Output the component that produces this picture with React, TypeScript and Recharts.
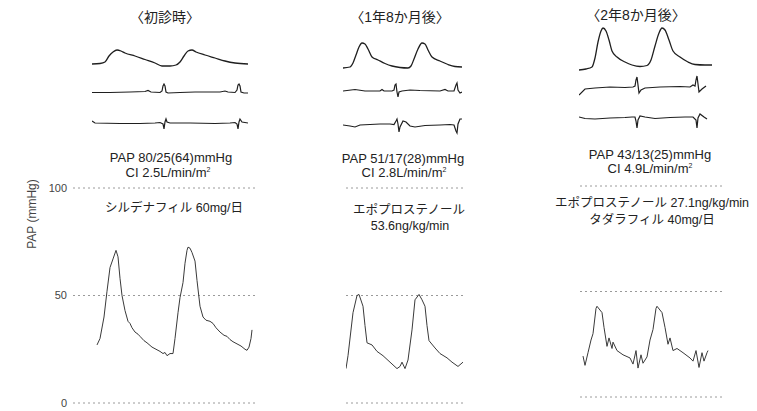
import { LineChart, Line, XAxis, YAxis, ReferenceLine } from 'recharts';

// time in ms from each panel's left reference
type Pt = [number, number];

// PAP waveforms (mmHg)
const pap1: Pt[] = [
  [240, 27], [270, 30], [310, 40], [340, 52], [370, 63], [400, 67], [430, 71], [450, 68], [470, 58],
  [490, 50], [520, 43], [550, 38], [570, 37], [590, 35], [620, 33], [650, 32], [670, 31], [710, 29],
  [740, 28], [790, 26], [830, 25], [870, 24], [900, 23], [920, 23.5], [940, 22], [970, 23], [1000, 23],
  [1020, 30], [1050, 42], [1070, 49], [1100, 56], [1120, 65], [1140, 71], [1150, 72.5], [1170, 72],
  [1190, 70], [1220, 66], [1240, 57], [1270, 45], [1300, 40], [1330, 38.5], [1370, 38], [1400, 37],
  [1430, 35], [1470, 33], [1510, 31.5], [1540, 31], [1570, 29.5], [1600, 28.5], [1640, 27.5],
  [1680, 26.5], [1720, 25], [1740, 24.5], [1760, 26], [1780, 30], [1790, 34],
];
const pap2: Pt[] = [
  [60, 16], [80, 22], [130, 42], [170, 50], [190, 50.5], [230, 45], [250, 36], [270, 28], [320, 27],
  [370, 24], [430, 22], [500, 19], [570, 16], [600, 17], [620, 19], [650, 16], [680, 20], [720, 34],
  [750, 48], [790, 50.5], [820, 48], [850, 45], [870, 36], [890, 29], [950, 25.6], [1000, 23],
  [1070, 21], [1120, 19], [1180, 17], [1230, 19],
];
const pap3: Pt[] = [
  [80, 19.4], [100, 15], [130, 21], [160, 27], [180, 30], [210, 42], [220, 43], [270, 40], [290, 33],
  [320, 24], [340, 28], [370, 23], [380, 26], [420, 22], [480, 20], [550, 18.5], [580, 15.6], [610, 22],
  [630, 13.7], [660, 20], [680, 16], [720, 19], [750, 27], [780, 32], [810, 42], [820, 43], [870, 40],
  [900, 33], [930, 25], [950, 28], [980, 22], [1020, 23], [1080, 21], [1150, 18.5], [1180, 17],
  [1210, 22], [1240, 14], [1270, 21], [1290, 17], [1320, 21], [1330, 22],
];

// upper strips: pressure, ECG lead A, ECG lead B (relative amplitude)
const press1: Pt[] = [
  [190, 76], [270, 76.5], [320, 78], [360, 84], [400, 88], [440, 90], [480, 89], [520, 87], [620, 84],
  [720, 80.5], [820, 77], [890, 74], [970, 74], [1030, 75], [1070, 78], [1110, 84], [1150, 89],
  [1190, 90], [1230, 88], [1320, 85], [1420, 82], [1520, 79], [1620, 77], [1750, 76],
];
const ecgA1: Pt[] = [
  [190, 47.5], [370, 47.5], [570, 48], [720, 48.5], [750, 49.5], [780, 48], [870, 47.5], [890, 49],
  [900, 54], [910, 56], [920, 54], [930, 48], [950, 47], [1070, 47.5], [1220, 48], [1470, 48],
  [1520, 49], [1550, 48], [1620, 47.5], [1640, 50], [1650, 55], [1660, 56], [1670, 54], [1680, 48],
  [1710, 47], [1750, 47],
];
const ecgB1: Pt[] = [
  [190, 19], [220, 17], [470, 16.5], [670, 16.5], [820, 17], [870, 17.5], [900, 16], [910, 11],
  [920, 18], [930, 21], [940, 18], [970, 17], [1170, 17], [1420, 16.5], [1570, 17], [1620, 17.5],
  [1640, 16], [1650, 11], [1660, 18], [1670, 21], [1690, 18], [1750, 17],
];
const press2: Pt[] = [
  [30, 72], [100, 73], [130, 77], [160, 85], [190, 93], [220, 97], [250, 96], [280, 91], [320, 83],
  [380, 80], [450, 76.5], [520, 74], [600, 72.5], [680, 72], [710, 74], [740, 81], [780, 91], [820, 97],
  [850, 96], [880, 90], [920, 83], [1000, 79], [1080, 75.5], [1150, 73.5], [1220, 73],
];
const ecgA2: Pt[] = [
  [30, 49], [150, 50.5], [250, 49], [400, 49], [420, 50.5], [440, 49], [520, 49], [540, 50], [550, 55],
  [560, 56], [570, 48], [580, 43], [590, 48], [620, 49], [700, 50], [800, 49.5], [1000, 49],
  [1050, 50.5], [1080, 49], [1140, 49], [1160, 55], [1170, 57], [1180, 50], [1200, 47], [1220, 48],
];
const ecgB2: Pt[] = [
  [30, 15], [100, 14], [150, 13], [200, 15], [300, 15.5], [400, 16], [500, 16], [540, 15.5], [560, 19],
  [570, 21], [580, 16], [590, 8], [600, 13], [630, 19], [660, 18], [700, 14], [750, 13], [850, 14.5],
  [1000, 15], [1100, 15.5], [1140, 15], [1160, 9], [1170, 7], [1180, 16], [1200, 21], [1220, 21],
];
const press3: Pt[] = [
  [40, 70], [110, 71], [170, 73], [200, 82], [230, 98], [260, 109], [280, 112], [310, 109], [340, 100],
  [370, 89], [420, 83], [500, 78], [570, 75], [650, 73.5], [720, 74.5], [760, 80], [800, 94], [840, 107],
  [870, 112], [900, 110], [940, 100], [980, 89], [1050, 83], [1130, 78], [1200, 75.5], [1300, 75],
  [1370, 75],
];
const ecgA3: Pt[] = [
  [40, 45], [100, 51], [200, 52], [350, 53], [500, 52.5], [580, 53], [600, 54], [610, 60], [620, 63],
  [630, 55], [640, 47], [660, 50], [700, 52], [850, 53], [1050, 53.5], [1150, 53], [1180, 55],
  [1200, 54], [1210, 60], [1220, 64], [1230, 56], [1240, 48], [1270, 51], [1310, 54],
];
const ecgB3: Pt[] = [
  [40, 23], [100, 21.5], [200, 21], [350, 22], [500, 22.5], [570, 23], [600, 23], [610, 19], [620, 12],
  [630, 20], [650, 24], [700, 23], [800, 21.5], [950, 22.5], [1100, 23], [1180, 23], [1210, 20],
  [1220, 12], [1230, 22], [1250, 26], [1290, 23], [1320, 21],
];

const pts = (a: Pt[]) => a.map(([t, v]) => ({ t, v }));

const yTicks = [0, 50, 100];
const INK = '#1f1f1f';
const GRID = '#9a9a9a';
const FONT = "'Liberation Sans', 'Noto Sans CJK JP', sans-serif";

type StripProps = { left: number; width: number; domain: [number, number]; press: Pt[]; ecgA: Pt[]; ecgB: Pt[] };

// pressure trace + two ECG leads; one hidden y scale, leads offset by amplitude
const Strips = ({ left, width, domain, press, ecgA, ecgB }: StripProps) => (
  <LineChart width={width} height={120} margin={{ top: 0, right: 0, bottom: 0, left: 0 }}
    style={{ position: 'absolute', left, top: 20 }}>
    <XAxis type="number" dataKey="t" domain={domain} allowDataOverflow hide />
    <YAxis type="number" domain={[0, 120]} allowDataOverflow hide />
    <Line data={pts(press)} dataKey="v" type="monotone" stroke={INK} strokeWidth={1.3} dot={false} isAnimationActive={false} />
    <Line data={pts(ecgA)} dataKey="v" type="linear" stroke={INK} strokeWidth={1.2} dot={false} isAnimationActive={false} />
    <Line data={pts(ecgB)} dataKey="v" type="linear" stroke={INK} strokeWidth={1.2} dot={false} isAnimationActive={false} />
  </LineChart>
);

type PapProps = { left: number; width: number; top: number; plotH: number; domain: [number, number]; data: Pt[]; showAxis?: boolean };

const PapChart = ({ left, width, top, plotH, domain, data, showAxis }: PapProps) => {
  const axisW = showAxis ? 73 : 0;
  return (
    <LineChart width={width + axisW} height={plotH + 20} data={pts(data)}
      margin={{ top: 10, right: 0, bottom: 10, left: 0 }}
      style={{ position: 'absolute', left: left - axisW, top: top - 10 }}>
      <XAxis type="number" dataKey="t" domain={domain} allowDataOverflow hide />
      <YAxis type="number" domain={[0, 100]} ticks={yTicks} hide={!showAxis} width={axisW}
        tickLine={false} axisLine={false} tickMargin={0} stroke="#444"
        tick={{ fill: '#444', fontSize: 11, fontFamily: FONT }} />
      {yTicks.map(y => (
        <ReferenceLine key={y} y={y} stroke={GRID} strokeWidth={1} strokeDasharray="2 3" />
      ))}
      <Line dataKey="v" type="linear" stroke="#3a3a3a" strokeWidth={1} dot={false} isAnimationActive={false} />
    </LineChart>
  );
};

const Txt = ({ x, y, size = 13, children }: { x: number; y: number; size?: number; children: any }) => (
  <div style={{
    position: 'absolute', left: x, top: y, transform: 'translate(-50%, -50%)', whiteSpace: 'nowrap',
    fontSize: size, color: '#222', fontFamily: FONT, lineHeight: 1,
  }}>{children}</div>
);

const sq = <sup style={{ fontSize: 7, verticalAlign: 5 }}>2</sup>;

export default function App() {
  return (
    <div style={{ position: 'absolute', left: 0, top: 0, width: 757, height: 411, background: '#fff', overflow: 'hidden' }}>
      <Txt x={165} y={17} size={14}>〈初診時〉</Txt>
      <Txt x={400} y={17} size={14}>〈1年8か月後〉</Txt>
      <Txt x={636} y={15} size={14}>〈2年8か月後〉</Txt>

      <Strips left={92} width={156} domain={[190, 1750]} press={press1} ecgA={ecgA1} ecgB={ecgB1} />
      <Strips left={343} width={119} domain={[30, 1220]} press={press2} ecgA={ecgA2} ecgB={ecgB2} />
      <Strips left={579} width={133} domain={[40, 1370]} press={press3} ecgA={ecgA3} ecgB={ecgB3} />

      <Txt x={171} y={157}>PAP 80/25(64)mmHg</Txt>
      <Txt x={168} y={172}>CI 2.5L/min/m{sq}</Txt>
      <Txt x={403} y={158}>PAP 51/17(28)mmHg</Txt>
      <Txt x={404} y={172}>CI 2.8L/min/m{sq}</Txt>
      <Txt x={650} y={154}>PAP 43/13(25)mmHg</Txt>
      <Txt x={650} y={168}>CI 4.9L/min/m{sq}</Txt>

      <Txt x={174} y={208} size={12.5}>シルデナフィル 60mg/日</Txt>
      <Txt x={409} y={210} size={12.5}>エポプロステノール</Txt>
      <Txt x={410} y={226} size={12.5}>53.6ng/kg/min</Txt>
      <Txt x={652} y={203} size={12.5}>エポプロステノール 27.1ng/kg/min</Txt>
      <Txt x={652} y={220} size={12.5}>タダラフィル 40mg/日</Txt>

      <div style={{
        position: 'absolute', left: 32, top: 214, transform: 'translate(-50%, -50%) rotate(-90deg)',
        whiteSpace: 'nowrap', fontSize: 12, color: '#444', fontFamily: FONT,
      }}>PAP (mmHg)</div>

      <PapChart left={73} width={182} top={188} plotH={215} domain={[0, 1820]} data={pap1} showAxis />
      <PapChart left={346} width={119} top={188} plotH={215} domain={[60, 1250]} data={pap2} />
      <PapChart left={580} width={142} top={186} plotH={211} domain={[50, 1470]} data={pap3} />
    </div>
  );
}
